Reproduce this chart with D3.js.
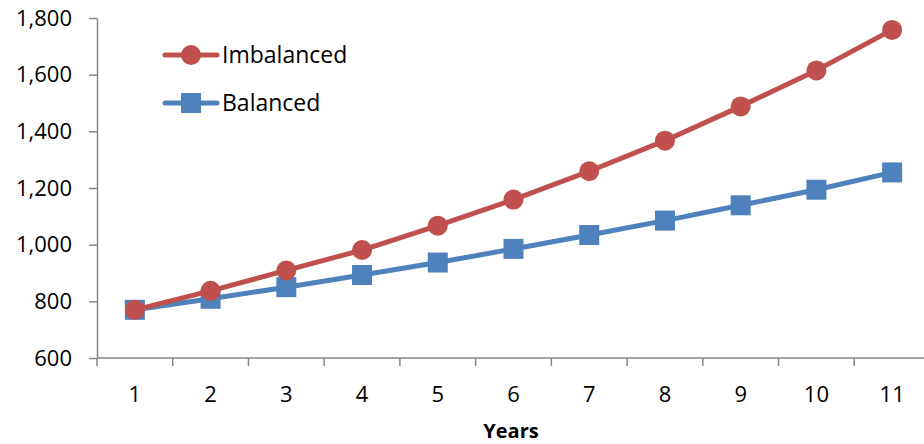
<!DOCTYPE html>
<html>
<head>
<meta charset="utf-8">
<script src="https://cdn.jsdelivr.net/npm/d3@7"></script>
<style>
  html, body { margin: 0; padding: 0; background: #fff; }
  svg { display: block; font-family: "Open Sans", sans-serif; }
</style>
</head>
<body>
<svg id="chart" width="924" height="444"></svg>
<script>
// Years on the horizontal axis
const years = [1, 2, 3, 4, 5, 6, 7, 8, 9, 10, 11];
// Series values
const imbalanced = [770, 837, 909, 981, 1067, 1159, 1259, 1367, 1488, 1615, 1758];
const balanced = [770, 809, 850, 893, 937, 985, 1034, 1085, 1139, 1194, 1255];
// Value axis ticks
const yTicks = [600, 800, 1000, 1200, 1400, 1600, 1800];
const seriesNames = ["Imbalanced", "Balanced"];

const svg = d3.select("#chart");
const plotLeft = 97, plotRight = 930, plotTop = 18, plotBottom = 358;
const axisColor = "#868686";
const colors = { Imbalanced: "#C0504D", Balanced: "#4F81BD" };

const x = d3.scaleBand().domain(years).range([plotLeft, plotRight]);
const y = d3.scaleLinear().domain([600, 1800]).range([plotBottom, plotTop]);

// Value axis
const yAxis = svg.append("g").attr("transform", `translate(${plotLeft},0)`)
  .call(d3.axisLeft(y).tickValues(yTicks).tickFormat(d3.format(",")).tickSize(8).tickSizeOuter(0));
yAxis.select(".domain").attr("stroke", axisColor).attr("stroke-width", 1.5);
yAxis.selectAll(".tick line").attr("stroke", axisColor).attr("stroke-width", 1.5);
yAxis.selectAll(".tick text").attr("x", -25).attr("font-size", 22).attr("fill", "#000")
  .attr("font-family", "Open Sans, sans-serif");

// Category axis with ticks between categories
const xAxisG = svg.append("g").attr("transform", `translate(0,${plotBottom})`);
xAxisG.append("line").attr("x1", plotLeft).attr("x2", plotRight).attr("stroke", axisColor).attr("stroke-width", 1.5);
const bounds = d3.range(years.length + 1).map(i => plotLeft + i * x.step());
xAxisG.selectAll("line.tk").data(bounds).join("line").attr("class", "tk")
  .attr("x1", d => d).attr("x2", d => d).attr("y1", 0).attr("y2", 8)
  .attr("stroke", axisColor).attr("stroke-width", 1.5);
xAxisG.selectAll("text").data(years).join("text")
  .attr("x", d => x(d) + x.bandwidth() / 2).attr("y", 44)
  .attr("text-anchor", "middle").attr("font-size", 22).attr("fill", "#000").text(d => d);

svg.append("text").attr("x", 511).attr("y", 438).attr("text-anchor", "middle")
  .attr("font-size", 20).attr("font-weight", "bold").text("Years");

const cx = d => x(d) + x.bandwidth() / 2;
const line = d3.line().x((d, i) => cx(years[i])).y(d => y(d));

// Balanced drawn first, imbalanced on top
const seriesData = { Imbalanced: imbalanced, Balanced: balanced };
["Balanced", "Imbalanced"].forEach(name => {
  const vals = seriesData[name];
  const g = svg.append("g");
  g.append("path").datum(vals).attr("d", line).attr("fill", "none")
    .attr("stroke", colors[name]).attr("stroke-width", 5).attr("stroke-linejoin", "round");
  if (name === "Imbalanced") {
    g.selectAll("circle").data(vals).join("circle")
      .attr("cx", (d, i) => cx(years[i])).attr("cy", d => y(d)).attr("r", 10)
      .attr("fill", colors[name]);
  } else {
    g.selectAll("rect").data(vals).join("rect")
      .attr("x", (d, i) => cx(years[i]) - 10).attr("y", d => y(d) - 10)
      .attr("width", 20).attr("height", 20).attr("fill", colors[name]);
  }
});

// Legend
const legend = svg.append("g");
seriesNames.forEach((name, i) => {
  const ly = 55 + i * 48;
  const g = legend.append("g");
  g.append("line").attr("x1", 165).attr("x2", 217).attr("y1", ly).attr("y2", ly)
    .attr("stroke", colors[name]).attr("stroke-width", 5).attr("stroke-linecap", "round");
  if (name === "Imbalanced") {
    g.append("circle").attr("cx", 191).attr("cy", ly).attr("r", 10).attr("fill", colors[name]);
  } else {
    g.append("rect").attr("x", 181).attr("y", ly - 10).attr("width", 20).attr("height", 20).attr("fill", colors[name]);
  }
  g.append("text").attr("x", 222).attr("y", ly).attr("dy", "0.35em")
    .attr("font-size", 23).attr("fill", "#000").text(name);
});
</script>
</body>
</html>
